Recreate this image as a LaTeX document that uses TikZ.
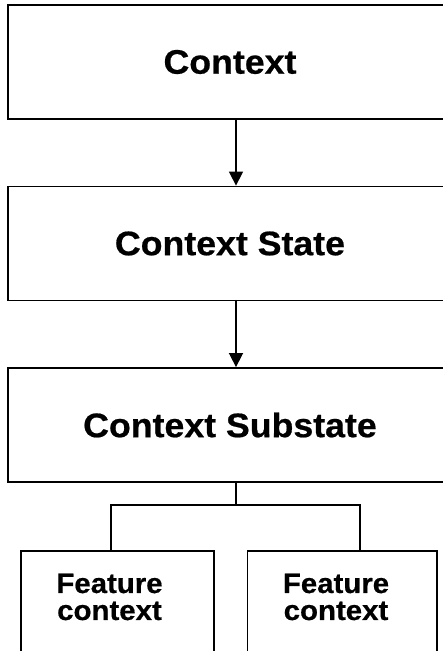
\documentclass[tikz,border=0pt]{standalone}
\usepackage{fontspec}
\setmainfont{Liberation Sans}[FakeStretch=1.05, BoldFeatures={FakeBold=0.6}]
\usepackage{tikz}
\usetikzlibrary{positioning, shapes.geometric, arrows.meta}
\tikzstyle{level} = [rectangle, minimum width=444pt, minimum height=114pt, text centered, draw=black, line width=1.8pt, font=\fontsize{34}{40}\selectfont\bfseries]
\tikzstyle{feature} = [rectangle, minimum height=120pt, draw=black, line width=1.8pt, anchor=north west]
\tikzstyle{featlabel} = [align=center, font=\fontsize{28}{27}\selectfont\bfseries]
\tikzstyle{arrow} = [line width=1.6pt, -{Triangle[width=14pt,length=14pt]}]
\tikzstyle{link} = [line width=1.5pt]
\def\arrx{6pt}

\begin{document}
\begin{tikzpicture}[x=1pt, y=1pt, node distance=181.5pt]
\useasboundingbox (0,0) rectangle (443,651);
\clip (0,0) rectangle (443,651);

\node (ctx) [level] at (230,589) {Context};
\node (state) [level, below of=ctx] {Context State};
\draw [arrow] ([xshift=\arrx]ctx.south) -- ([xshift=\arrx]state.north);
\node (sub) [level, below of=state] {Context Substate};
\draw [arrow] ([xshift=\arrx]state.south) -- ([xshift=\arrx]sub.north);

\node (featL) [feature, minimum width=193pt] at (20,101) {};
\node (featR) [feature, minimum width=189.5pt] at (246.5,101) {};
\node (featLtxt) [featlabel] at (109.5,54) {Feature\\context};
\node (featRtxt) [featlabel] at (336,54) {Feature\\context};

% tree below the substate
\draw [link] ([xshift=\arrx]sub.south) -- ++(0,-22) coordinate (split);
\draw [link] (split) -| ([xshift=91pt]featL.north west);
\draw [link] (split) -| ([xshift=113.5pt]featR.north west);

\end{tikzpicture}
\end{document}
